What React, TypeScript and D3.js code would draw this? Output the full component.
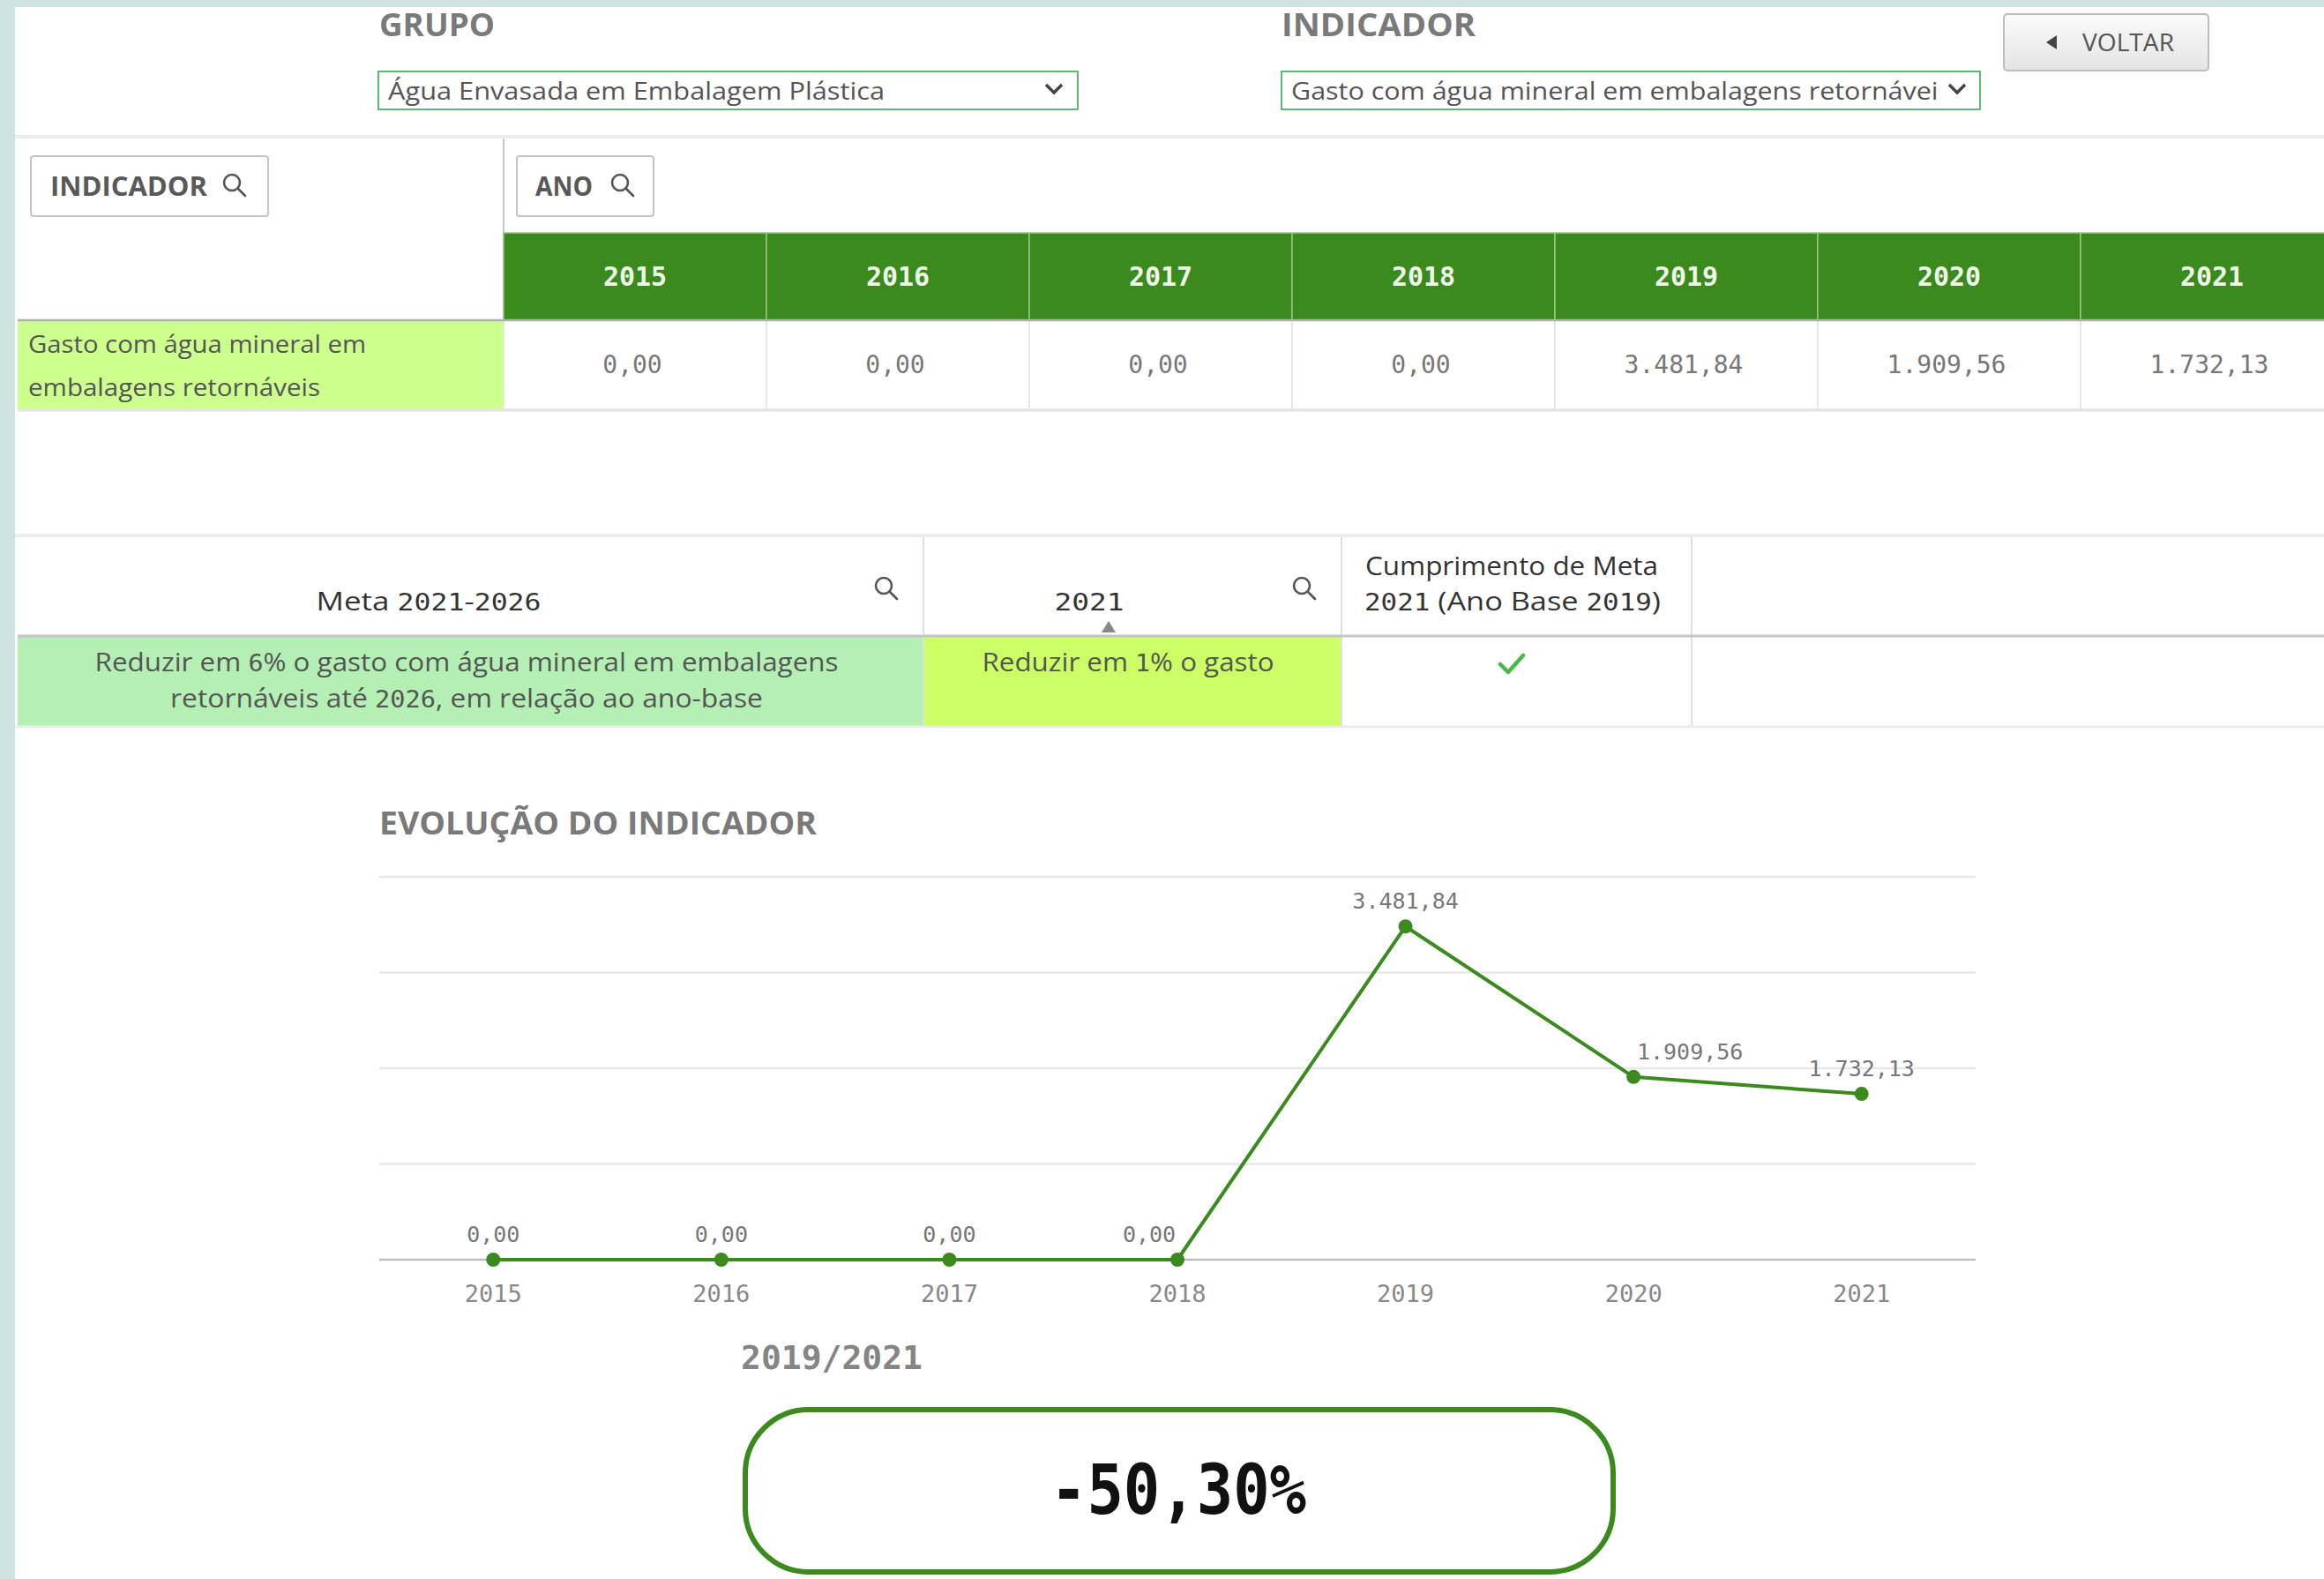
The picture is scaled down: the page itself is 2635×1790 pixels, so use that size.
import React, { useEffect } from "react";
import * as d3 from "d3";

// dados
const anos = ["2015", "2016", "2017", "2018", "2019", "2020", "2021"];
const gasto = [0, 0, 0, 0, 3481.84, 1909.56, 1732.13];
const gradeY = [0, 1000, 2000, 3000, 4000];
const grupo = "Água Envasada em Embalagem Plástica";
const indicador = "Gasto com água mineral em embalagens retornáveis";
const indicadorLinhas = ["Gasto com água mineral em", "embalagens retornáveis"];
const metaLinhas = [
  "Reduzir em 6% o gasto com água mineral em embalagens",
  "retornáveis até 2026, em relação ao ano-base",
];
const meta2021 = "Reduzir em 1% o gasto";
const cumprimentoLinhas = ["Cumprimento de Meta", "2021 (Ano Base 2019)"];
const periodo = "2019/2021";
const variacao = "-50,30%";

const W = 2635;
const H = 1790;
const SANS = "'Open Sans', sans-serif";
const MONO = "'DejaVu Sans Mono', monospace";
const VERDE = "#3a8a1d";

const br = d3.formatLocale({
  decimal: ",",
  thousands: ".",
  grouping: [3],
  currency: ["R$", ""],
});
const fmt = br.format(",.2f");

// texto sans com algarismos em fonte mono (como no Qlik)
const Txt = ({
  x,
  y,
  w,
  s = 29,
  fill = "#555",
  anchor = "start",
  children,
}: {
  x: number;
  y: number;
  w?: number;
  s?: number;
  fill?: string;
  anchor?: string;
  children: string;
}) => (
  <text
    x={x}
    y={y}
    fontFamily={SANS}
    fontSize={s}
    fill={fill}
    textAnchor={anchor}
    textLength={w}
    lengthAdjust={w ? "spacingAndGlyphs" : undefined}
  >
    {children.split(/(\d+)/).map((p, i) =>
      /^\d+$/.test(p) ? (
        <tspan key={i} fontFamily={MONO} fontSize={s * 0.9}>
          {p}
        </tspan>
      ) : (
        <tspan key={i}>{p}</tspan>
      )
    )}
  </text>
);

// lupa
const Lupa = ({ x, y }: { x: number; y: number }) => (
  <g transform={`translate(${x},${y})`} fill="none" stroke="#555" strokeWidth={2.6}>
    <circle cx={-3} cy={-3} r={9} />
    <line x1={4} y1={4} x2={12} y2={12} strokeLinecap="round" />
  </g>
);

const Seta = ({ x, y }: { x: number; y: number }) => (
  <path
    d={`M${x - 9},${y - 5} L${x},${y + 4} L${x + 9},${y - 5}`}
    fill="none"
    stroke="#444"
    strokeWidth={3.5}
  />
);

const App: React.FC = () => {
  useEffect(() => {
    document.body.style.margin = "0";
  }, []);

  // tabela de anos (a última coluna passa da borda)
  const tx = d3.scaleBand().domain(anos).range([571, 571 + 7 * 298]);
  // gráfico
  const x = d3.scaleBand().domain(anos).range([430, 2240]);
  const y = d3.scaleLinear().domain([0, 4000]).range([1428, 994]);
  const cx = (i: number) => (x(anos[i]) as number) + x.bandwidth() / 2;
  const linha = d3
    .line<number>()
    .x((_, i) => cx(i))
    .y((d) => y(d));
  // deslocamento dos rótulos para não cruzar a linha
  const desloc: Record<number, number> = { 3: -32, 5: 64 };

  return (
    <svg
      width={W}
      height={H}
      style={{ position: "absolute", left: 0, top: 0, display: "block" }}
    >
      <defs>
        <linearGradient id="btn" x1="0" y1="0" x2="0" y2="1">
          <stop offset="0" stopColor="#fbfbfb" />
          <stop offset="1" stopColor="#e4e4e4" />
        </linearGradient>
        <clipPath id="clipInd">
          <rect x={1455} y={82} width={742} height={42} />
        </clipPath>
      </defs>
      <rect width={W} height={H} fill="#d0e3df" />
      <rect x={17} y={8} width={W - 17} height={H - 8} fill="#ffffff" />

      {/* cabeçalho */}
      <text x={430} y={41} fontFamily={SANS} fontWeight="bold" fontSize={36} fill="#7a7a7a" textLength={131} lengthAdjust="spacingAndGlyphs">
        GRUPO
      </text>
      <rect x={429} y={81} width={793} height={43} fill="#fff" stroke="#5cb874" strokeWidth={2} />
      <text x={440} y={113} fontFamily={SANS} fontSize={28} fill="#555" textLength={563} lengthAdjust="spacingAndGlyphs">
        {grupo}
      </text>
      <Seta x={1195} y={101} />

      <text x={1453} y={41} fontFamily={SANS} fontWeight="bold" fontSize={36} fill="#7a7a7a" textLength={220} lengthAdjust="spacingAndGlyphs">
        INDICADOR
      </text>
      <rect x={1453} y={81} width={792} height={43} fill="#fff" stroke="#5cb874" strokeWidth={2} />
      <g clipPath="url(#clipInd)">
        <text x={1464} y={113} fontFamily={SANS} fontSize={28} fill="#555" textLength={748} lengthAdjust="spacingAndGlyphs">
          {indicador}
        </text>
      </g>
      <Seta x={2219} y={101} />

      <rect x={2272} y={16} width={232} height={64} rx={4} fill="url(#btn)" stroke="#bdbdbd" strokeWidth={2} />
      <path d="M2320,48 L2332,40 L2332,56 Z" fill="#444" />
      <text x={2361} y={58} fontFamily={SANS} fontSize={28} fill="#555" textLength={104} lengthAdjust="spacingAndGlyphs">
        VOLTAR
      </text>

      {/* tabela de valores */}
      <line x1={17} x2={W} y1={155} y2={155} stroke="#ececec" strokeWidth={4} />
      <line x1={571} x2={571} y1={157} y2={363} stroke="#c8c8c8" strokeWidth={2} />
      <rect x={35} y={177} width={269} height={68} rx={3} fill="#fff" stroke="#c4c4c4" strokeWidth={2} />
      <text x={57} y={222} fontFamily={SANS} fontWeight="bold" fontSize={30} fill="#595959" textLength={178} lengthAdjust="spacingAndGlyphs">
        INDICADOR
      </text>
      <Lupa x={266} y={210} />
      <rect x={586} y={177} width={155} height={68} rx={3} fill="#fff" stroke="#c4c4c4" strokeWidth={2} />
      <text x={607} y={222} fontFamily={SANS} fontWeight="bold" fontSize={30} fill="#595959" textLength={65} lengthAdjust="spacingAndGlyphs">
        ANO
      </text>
      <Lupa x={706} y={210} />

      {anos.map((a, i) => (
        <g key={a}>
          <rect
            x={tx(a)}
            y={264}
            width={tx.bandwidth()}
            height={99}
            fill={VERDE}
            stroke="#9cc48a"
            strokeWidth={1.5}
          />
          <text
            x={(tx(a) as number) + tx.bandwidth() / 2}
            y={324}
            textAnchor="middle"
            fontFamily={MONO}
            fontWeight="bold"
            fontSize={30}
            fill="#eef6e8"
          >
            {a}
          </text>
          <rect
            x={tx(a)}
            y={363}
            width={tx.bandwidth()}
            height={101}
            fill="#fff"
            stroke="#e2e2e2"
            strokeWidth={1.5}
          />
          <text
            x={(tx(a) as number) + tx.bandwidth() / 2 - 3}
            y={423}
            textAnchor="middle"
            fontFamily={MONO}
            fontSize={28}
            fill="#777"
          >
            {fmt(gasto[i])}
          </text>
        </g>
      ))}
      <rect x={20} y={363} width={551} height={101} fill="#ccff8e" />
      <Txt x={32} y={400} w={383} s={28}>{indicadorLinhas[0]}</Txt>
      <Txt x={32} y={449} w={331} s={28}>{indicadorLinhas[1]}</Txt>
      <line x1={20} x2={W} y1={363} y2={363} stroke="#b0b0b0" strokeWidth={2.5} />
      <line x1={20} x2={W} y1={465} y2={465} stroke="#e4e4e4" strokeWidth={3} />

      {/* tabela de metas */}
      <line x1={17} x2={W} y1={607} y2={607} stroke="#ececec" strokeWidth={4} />
      <rect x={20} y={722} width={1027} height={101} fill="#b4efb4" />
      <rect x={1047} y={722} width={474} height={101} fill="#ccff66" />
      {[1047, 1521, 1918].map((v) => (
        <line key={v} x1={v} x2={v} y1={609} y2={823} stroke="#e0e0e0" strokeWidth={2} />
      ))}
      <line x1={20} x2={W} y1={721} y2={721} stroke="#c4c4c4" strokeWidth={3} />
      <line x1={17} x2={W} y1={824} y2={824} stroke="#ececec" strokeWidth={3} />

      <Txt x={486} y={692} w={255} anchor="middle" fill="#333">Meta 2021-2026</Txt>
      <Lupa x={1005} y={667} />
      <Txt x={1235} y={692} w={79} anchor="middle" fill="#333">2021</Txt>
      <path d="M1249,717 L1257,704 L1265,717 Z" fill="#888" />
      <Lupa x={1479} y={667} />
      <Txt x={1714} y={652} w={332} anchor="middle" fill="#333">{cumprimentoLinhas[0]}</Txt>
      <Txt x={1715} y={692} w={336} anchor="middle" fill="#333">{cumprimentoLinhas[1]}</Txt>
      <Txt x={529} y={761} w={843} anchor="middle">{metaLinhas[0]}</Txt>
      <Txt x={529} y={802} w={672} anchor="middle">{metaLinhas[1]}</Txt>
      <Txt x={1279} y={761} w={331} anchor="middle">{meta2021}</Txt>
      <path
        d="M1701,753 L1710,762 L1727,743"
        fill="none"
        stroke="#46b946"
        strokeWidth={4.5}
        strokeLinecap="round"
        strokeLinejoin="round"
      />

      {/* gráfico de evolução */}
      <text x={430} y={946} fontFamily={SANS} fontWeight="bold" fontSize={36} fill="#7a7a7a" textLength={496} lengthAdjust="spacingAndGlyphs">
        EVOLUÇÃO DO INDICADOR
      </text>
      {gradeY.map((v) => (
        <line
          key={v}
          x1={430}
          x2={2240}
          y1={y(v)}
          y2={y(v)}
          stroke={v === 0 ? "#bdbdbd" : "#e8e8e8"}
          strokeWidth={2.5}
        />
      ))}
      <path d={linha(gasto) || ""} fill="none" stroke={VERDE} strokeWidth={4} strokeLinejoin="round" />
      {gasto.map((v, i) => (
        <g key={anos[i]}>
          <circle cx={cx(i)} cy={y(v)} r={8} fill={VERDE} />
          <text
            x={cx(i) + (desloc[i] || 0)}
            y={y(v) - 20}
            textAnchor="middle"
            fontFamily={MONO}
            fontSize={25}
            fill="#777"
          >
            {fmt(v)}
          </text>
          <text x={cx(i)} y={1476} textAnchor="middle" fontFamily={MONO} fontSize={27} fill="#888">
            {anos[i]}
          </text>
        </g>
      ))}

      <text x={840} y={1552} fontFamily={MONO} fontWeight="bold" fontSize={38} fill="#858585">
        {periodo}
      </text>
      <rect x={845} y={1598} width={984} height={184} rx={72} fill="#fff" stroke={VERDE} strokeWidth={6} />
      <text
        x={1336}
        y={1716}
        textAnchor="middle"
        fontFamily={MONO}
        fontWeight="bold"
        fontSize={78}
        fill="#111"
        textLength={290}
        lengthAdjust="spacingAndGlyphs"
      >
        {variacao}
      </text>
    </svg>
  );
};

export default App;
